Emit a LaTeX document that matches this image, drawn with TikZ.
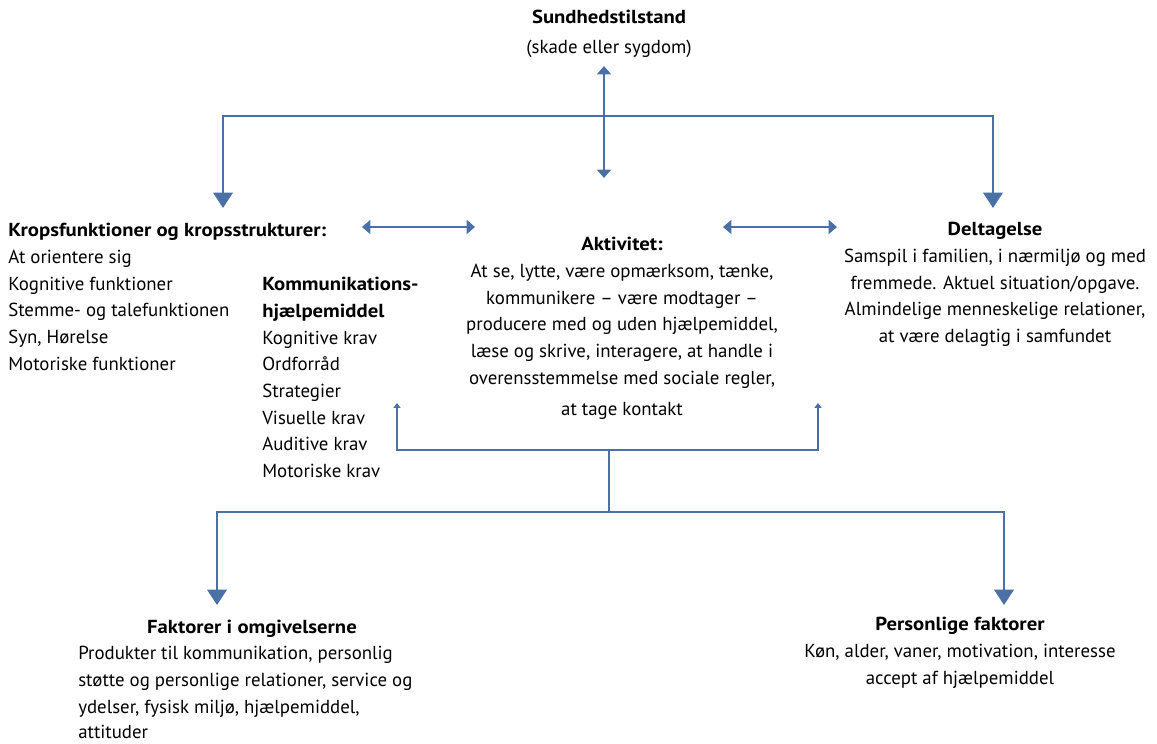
\documentclass[tikz,border=0pt]{standalone}
\usepackage{fontspec}
\setmainfont{PT Sans}[BoldFeatures={FakeStretch=1.1}]
\usetikzlibrary{arrows.meta}
\definecolor{icfblue}{RGB}{74,112,166}

\begin{document}
\begin{tikzpicture}[x=0.025cm,y=-0.025cm]
    \tikzstyle{every node}=[inner sep=0pt,font=\fontsize{13.4}{19}\selectfont]
    \tikzstyle{link}=[draw=icfblue,line width=1.5pt]
    \tikzstyle{bighead}=[-{Triangle[width=14pt,length=11pt]}]
    \tikzstyle{midhead}=[{Triangle[width=10pt,length=6pt]}-{Triangle[width=10pt,length=6pt]}]
    \tikzstyle{smallhead}=[-{Triangle[width=5pt,length=3.5pt]}]
    \useasboundingbox (0,0) rectangle (1157,743);

    % tekstblokke
    \node(sundhed)[anchor=north,align=center] at (609,10)
      {\textbf{Sundhedstilstand}\\[2.3pt](skade eller sygdom)};
    \node(krop)[anchor=north west,align=left] at (8,223)
      {\textbf{Kropsfunktioner og kropsstrukturer:}\\At orientere sig\\Kognitive funktioner\\
       Stemme- og talefunktionen\\Syn, Hørelse\\Motoriske funktioner};
    \node(komm)[anchor=north west,align=left] at (262,277)
      {\textbf{Kommunikations-}\\\textbf{hjælpemiddel}\\Kognitive krav\\Ordforråd\\Strategier\\
       Visuelle krav\\Auditive krav\\Motoriske krav};
    \node(aktiv)[anchor=north,align=center] at (622,237)
      {\textbf{Aktivitet:}\\At se, lytte, være opmærksom, tænke,\\kommunikere – være modtager –\\
       producere med og uden hjælpemiddel,\\læse og skrive, interagere, at handle i\\
       overensstemmelse med sociale regler,\\[3.5pt]at tage kontakt};
    \node(deltag)[anchor=north,align=center] at (995,222)
      {\textbf{Deltagelse}\\Samspil i familien, i nærmiljø og med\\fremmede. Aktuel situation/opgave.\\
       Almindelige menneskelige relationer,\\at være delagtig i samfundet};
    \node(omgiv)[anchor=north] at (252,620) {\textbf{Faktorer i omgivelserne}};
    \node(omgivtxt)[anchor=north west,align=left] at (78,646)
      {Produkter til kommunikation, personlig\\støtte og personlige relationer, service og\\
       ydelser, fysisk miljø, hjælpemiddel,\\[-0.6pt]attituder};
    \node(person)[anchor=north,align=center] at (960,617)
      {\textbf{Personlige faktorer}\\Køn, alder, vaner, motivation, interesse\\accept af hjælpemiddel};

    % forbindelser
    \coordinate(sundhed-pil) at (604,66);
    \coordinate(aktiv-pil) at (604,178);
    \coordinate(top-hub) at (604,116);
    \coordinate(krop-pil) at (223,208);
    \coordinate(deltag-pil) at (993,208);
    \coordinate(krop-hoejre) at (362,227);
    \coordinate(aktiv-venstre) at (475,227);
    \coordinate(aktiv-hoejre) at (723,227);
    \coordinate(deltag-venstre) at (837,227);
    \coordinate(komm-pil) at (397,403);
    \coordinate(aktiv-bund) at (818,403);
    \coordinate(mid-hub) at (609,450);
    \coordinate(bund-hub) at (609,512);
    \coordinate(omgiv-pil) at (217,605);
    \coordinate(person-pil) at (1004,605);

    \draw[link,midhead] (sundhed-pil) -- (aktiv-pil);
    \draw[link,bighead] (top-hub) -| (krop-pil);
    \draw[link,bighead] (top-hub) -| (deltag-pil);
    \draw[link,midhead] (krop-hoejre) -- (aktiv-venstre);
    \draw[link,midhead] (aktiv-hoejre) -- (deltag-venstre);
    \draw[link] (bund-hub) -- (mid-hub);
    \draw[link,smallhead] (mid-hub) -| (komm-pil);
    \draw[link,smallhead] (mid-hub) -| (aktiv-bund);
    \draw[link,bighead] (bund-hub) -| (omgiv-pil);
    \draw[link,bighead] (bund-hub) -| (person-pil);
\end{tikzpicture}
\end{document}
